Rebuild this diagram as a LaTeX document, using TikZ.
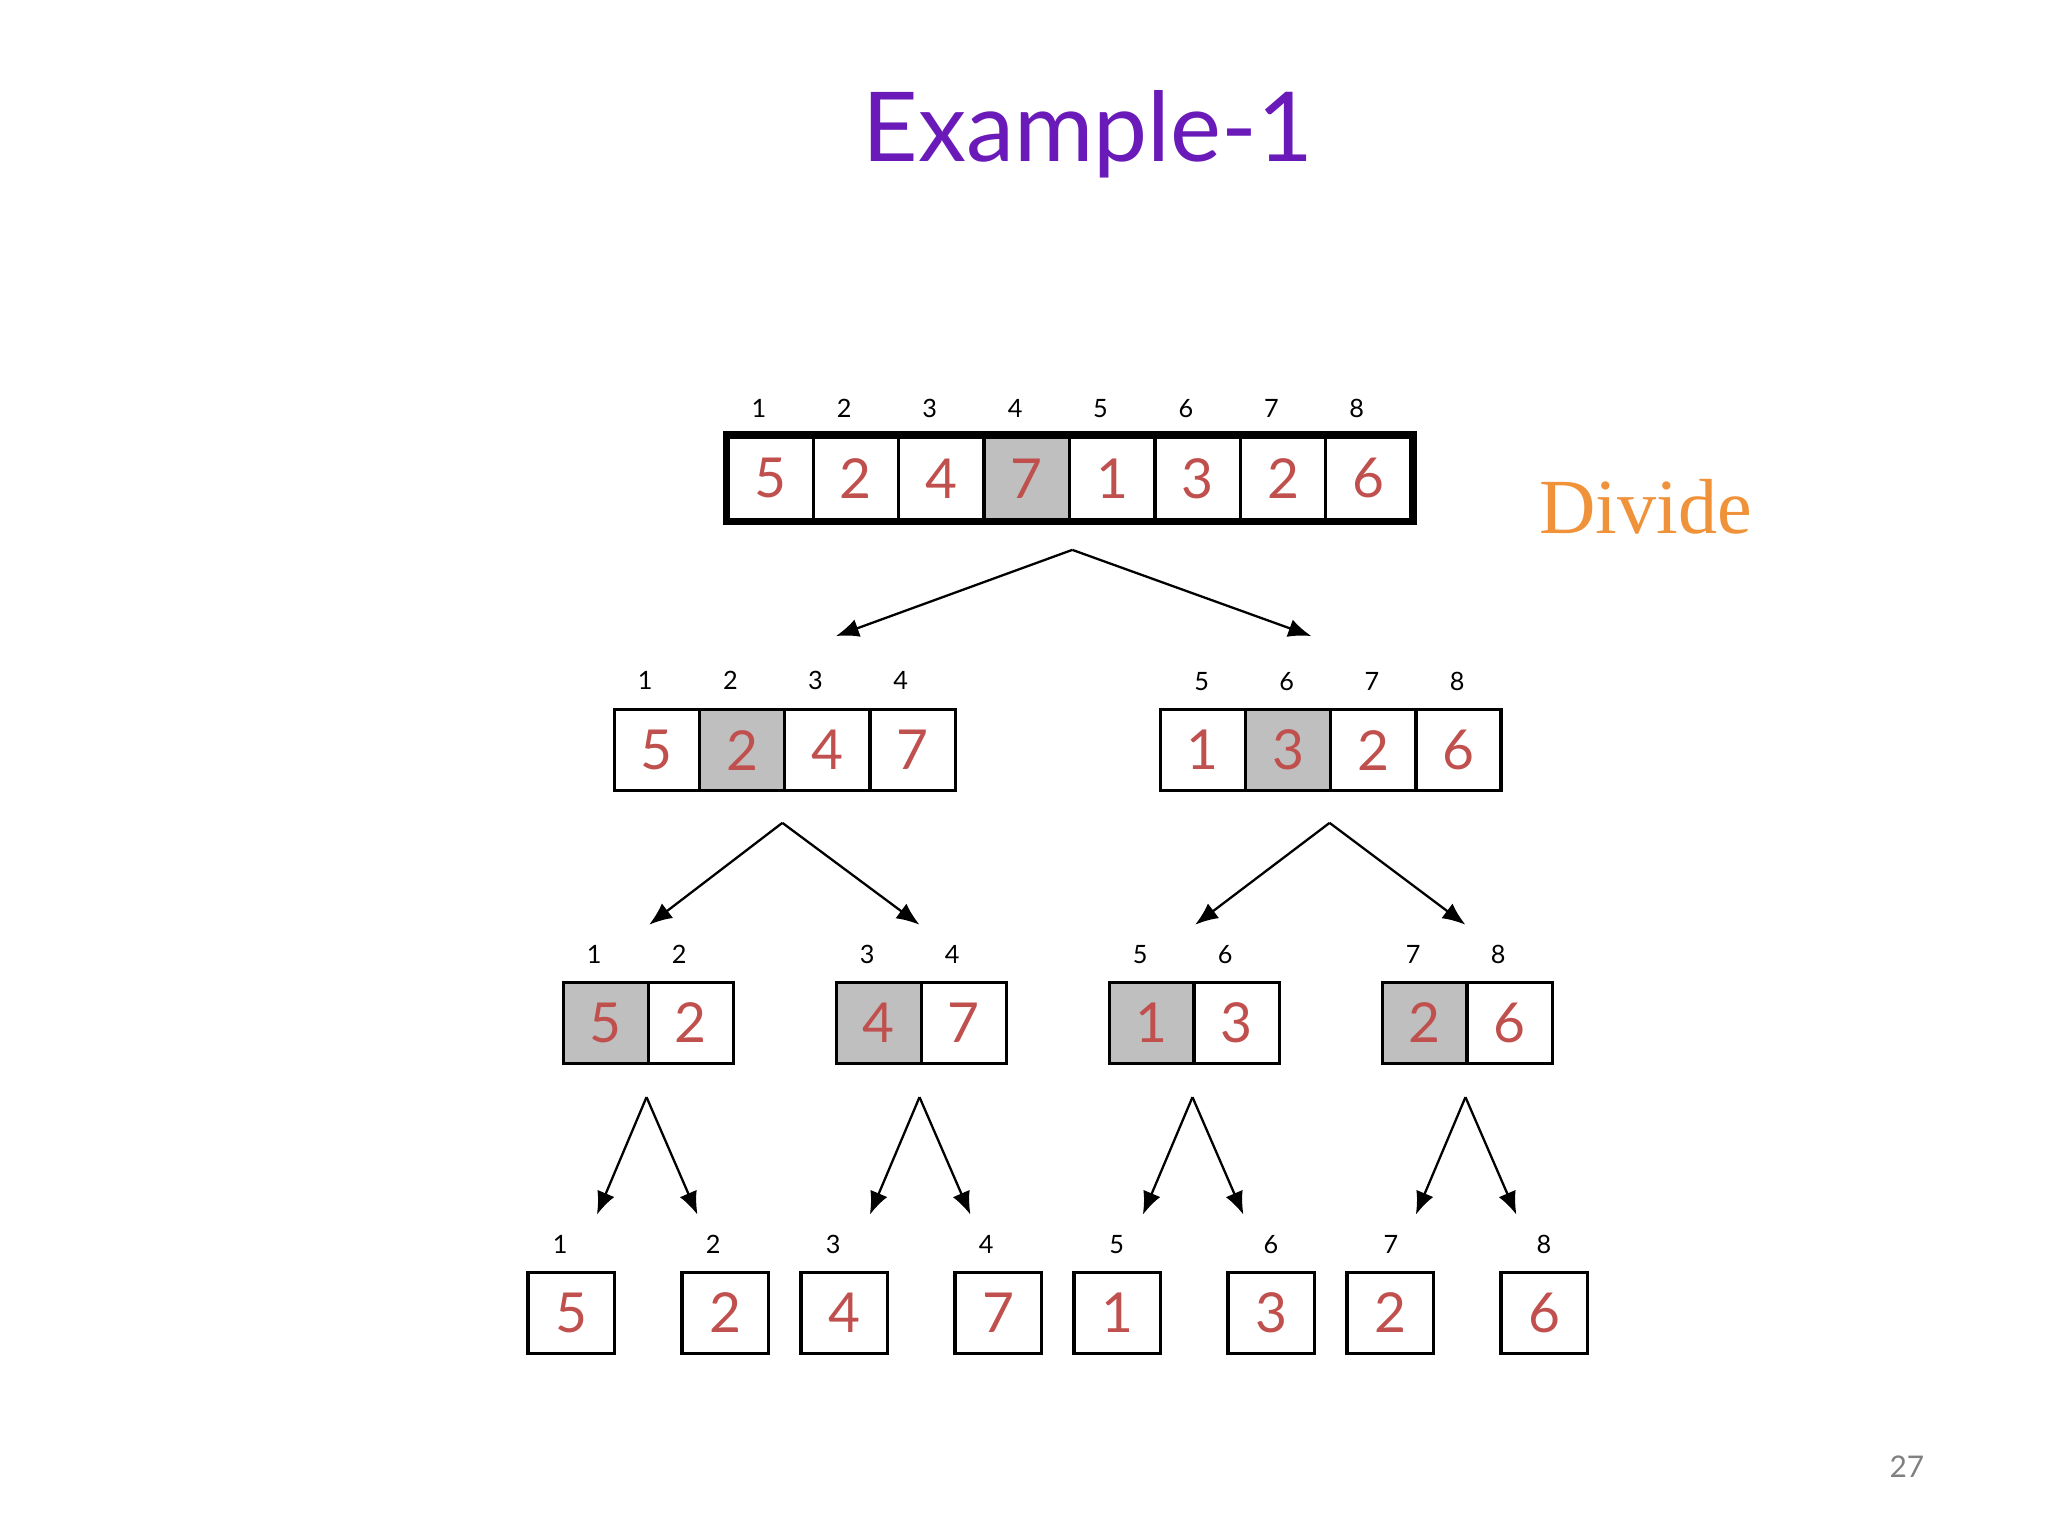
\documentclass[tikz,border=0pt]{standalone}
\usepackage{fontspec}
\setmainfont{Lato}
\usetikzlibrary{arrows.meta}
\definecolor{dig}{HTML}{C0504D}
\definecolor{ttl}{HTML}{6A1AB8}
\definecolor{org}{HTML}{F0923A}
\definecolor{shd}{HTML}{BFBFBF}
\begin{document}
\begin{tikzpicture}[x=0.01cm,y=-0.01cm,
  cell/.style={draw=black,line width=0.7pt,minimum width=0.654cm,minimum height=0.62cm,inner sep=0pt,anchor=north west,text=dig,font=\fontsize{12}{12}\selectfont},
  idx/.style={font=\fontsize{5.5}{6}\selectfont},
  arr/.style={-{Latex[length=5pt,width=4pt]},line width=0.5pt}]
\useasboundingbox (0,0) rectangle (1568,1176);
\node[text=ttl,font=\fontsize{21}{24}\selectfont] (title) at (833,103) {Example-1};
\node[text=org,font=\fontsize{17}{20}\selectfont\rmfamily,font=\fontspec{Liberation Serif}\fontsize{17}{20}\selectfont] (divide) at (1260,388) {Divide};
\node[text=gray,font=\fontsize{6.5}{8}\selectfont] (pg) at (1460,1123) {27};
% level 1
\foreach \v [count=\i] in {5,2,4,7,1,3,2,6}{
  \pgfmathsetmacro\xx{556+(\i-1)*65.4}
  \ifnum\i=4 \node[cell,fill=shd,minimum height=0.64cm] (a\i) at (\xx,333) {\v};
  \else \node[cell,minimum height=0.64cm] (a\i) at (\xx,333) {\v};\fi
  \node[idx] (ia\i) at (\xx+25,313) {\i};
}
\draw[line width=1.6pt] (a1.north west) rectangle (a8.south east);
% level 2
\foreach \v [count=\i] in {5,2,4,7}{
  \pgfmathsetmacro\xx{469+(\i-1)*65.2}
  \ifnum\i=2 \node[cell,fill=shd] (b\i) at (\xx,542) {\v};
  \else \node[cell] (b\i) at (\xx,542) {\v};\fi
  \node[idx] (ib\i) at (\xx+25,521) {\i};
}
\foreach \v [count=\i] in {1,3,2,6}{
  \pgfmathsetmacro\xx{887+(\i-1)*65.2}
  \pgfmathtruncatemacro\k{\i+4}
  \ifnum\i=2 \node[cell,fill=shd] (c\i) at (\xx,542) {\v};
  \else \node[cell] (c\i) at (\xx,542) {\v};\fi
  \node[idx] (ic\i) at (\xx+33,522) {\k};
}
\coordinate (s1) at (821,421);
\coordinate (t1) at (640,487); \coordinate (t2) at (1004,487);
\draw[arr] (s1) -- (t1); \draw[arr] (s1) -- (t2);
% level 3
\foreach \xs/\a/\b/\ia/\ib/\nm in {430/5/2/1/2/p,639/4/7/3/4/q,848/1/3/5/6/r,1057/2/6/7/8/s}{
  \node[cell,fill=shd] (\nm1) at (\xs,751) {\a};
  \node[cell] (\nm2) at (\xs+65,751) {\b};
  \node[idx] (i\nm1) at (\xs+25,731) {\ia};
  \node[idx] (i\nm2) at (\xs+90,731) {\ib};
}
\foreach \sx/\lx/\rx/\n in {599/497/704/1,1018/915/1122/2}{
  \coordinate (u\n) at (\sx,630);
  \coordinate (ul\n) at (\lx,708); \coordinate (ur\n) at (\rx,708);
  \draw[arr] (u\n) -- (ul\n); \draw[arr] (u\n) -- (ur\n);
}
% level 4
\foreach \xs/\v/\i/\lx in {403/5/1/429,521/2/2/546,612/4/3/638,730/7/4/755,821/1/5/855,939/3/6/973,1030/2/7/1065,1148/6/8/1182}{
  \node[cell,minimum width=0.66cm] (d\i) at (\xs,973) {\v};
  \node[idx] (id\i) at (\lx,953) {\i};
}
\foreach \sx/\n in {495/1,704/2,913/3,1122/4}{
  \coordinate (w\n) at (\sx,840);
  \coordinate (wl\n) at (\sx-38,930); \coordinate (wr\n) at (\sx+39,930);
  \draw[arr] (w\n) -- (wl\n); \draw[arr] (w\n) -- (wr\n);
}
\end{tikzpicture}
\end{document}
